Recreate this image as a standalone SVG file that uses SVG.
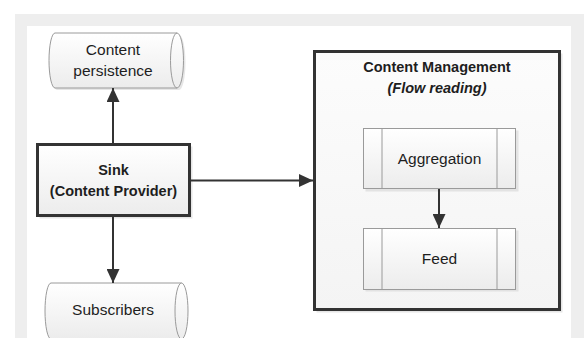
<svg xmlns="http://www.w3.org/2000/svg" width="584" height="338" viewBox="0 0 584 338">
  <style>
    .t { font-family: "Liberation Sans", Arial, sans-serif; fill: #1e1e1e; text-anchor: middle; }
    .n { font-size: 15.5px; }
    .b { font-size: 14.5px; font-weight: bold; }
    .i { font-style: italic; }
    .thin { stroke: #9a9a9a; stroke-width: 1; }
    .thick { stroke: #333333; stroke-width: 3; }
    .shadow { fill: #d6d6d6; opacity: 0.6; }
    .conn { stroke: #333333; stroke-width: 2; fill: none; }
  </style>
  <defs>
    <linearGradient id="soft" x1="0" y1="0" x2="0" y2="1">
      <stop offset="0" stop-color="#ffffff"/>
      <stop offset="1" stop-color="#ececec"/>
    </linearGradient>
    <linearGradient id="panel" x1="0" y1="0" x2="0" y2="1">
      <stop offset="0" stop-color="#fcfcfc"/>
      <stop offset="1" stop-color="#f4f4f4"/>
    </linearGradient>
    <marker id="arrow" viewBox="0 0 14 13" refX="14" refY="6.5" markerWidth="14" markerHeight="13" markerUnits="userSpaceOnUse" orient="auto">
      <path d="M0,0 L14,6.5 L0,13 Z" fill="#333333"/>
    </marker>
  </defs>

  <!-- page frame -->
  <rect x="15" y="14" width="569" height="324" fill="#eeeeee"/>
  <rect x="27" y="26" width="544" height="312" fill="#ffffff"/>

  <!-- storage: content persistence -->
  <g id="content-persistence">
    <path d="M57,35 H179 A6.5,27.5 0 0 1 179,90 H57 A6,27.5 0 0 1 57,35 Z" class="shadow"/>
    <path d="M55,33 H177 A6.5,27.5 0 0 1 177,88 H55 A6,27.5 0 0 1 55,33 Z" fill="url(#soft)" class="thin"/>
    <path d="M177,33 A6.5,27.5 0 0 0 177,88" fill="none" class="thin"/>
    <text class="t n" x="113" y="55">Content</text>
    <text class="t n" x="113" y="76">persistence</text>
  </g>

  <!-- process: sink -->
  <g id="sink">
    <rect x="39.5" y="146.5" width="153" height="72" class="shadow"/>
    <rect x="37.5" y="144.5" width="152" height="71" fill="url(#soft)" class="thick"/>
    <text class="t b" x="113.5" y="175">Sink</text>
    <text class="t b" x="113.5" y="196">(Content Provider)</text>
  </g>

  <!-- storage: subscribers -->
  <g id="subscribers">
    <path d="M51,283 H181.5 A6.5,28 0 0 1 181.5,339 H51 A6,28 0 0 1 51,283 Z" fill="url(#soft)" class="thin"/>
    <path d="M181.5,283 A6.5,28 0 0 0 181.5,339" fill="none" class="thin"/>
    <text class="t n" x="113" y="315">Subscribers</text>
  </g>

  <!-- container: content management -->
  <g id="content-management">
    <rect x="316.5" y="53.5" width="246" height="259" class="shadow"/>
    <rect x="314.5" y="51.5" width="245" height="258" fill="url(#panel)" class="thick"/>
    <text class="t b" x="437" y="72">Content Management</text>
    <text class="t b i" x="437" y="93">(Flow reading)</text>
  </g>

  <!-- subprocess: aggregation -->
  <g id="aggregation">
    <rect x="365.5" y="130.5" width="153" height="61" class="shadow"/>
    <rect x="363.5" y="128.5" width="152" height="60" fill="url(#soft)" class="thin"/>
    <line x1="382" y1="128.5" x2="382" y2="188.5" class="thin"/>
    <line x1="497" y1="128.5" x2="497" y2="188.5" class="thin"/>
    <text class="t n" x="439.5" y="164">Aggregation</text>
  </g>

  <!-- subprocess: feed -->
  <g id="feed">
    <rect x="365.5" y="230.5" width="153" height="61" class="shadow"/>
    <rect x="363.5" y="228.5" width="152" height="61" fill="url(#soft)" class="thin"/>
    <line x1="382" y1="228.5" x2="382" y2="289.5" class="thin"/>
    <line x1="497" y1="228.5" x2="497" y2="289.5" class="thin"/>
    <text class="t n" x="439.5" y="264">Feed</text>
  </g>

  <!-- connectors, drawn last so they sit above the container -->
  <g id="connectors">
    <line class="conn" x1="113" y1="143" x2="113" y2="88" marker-end="url(#arrow)"/>
    <line class="conn" x1="113" y1="217" x2="113" y2="283" marker-end="url(#arrow)"/>
    <line class="conn" x1="191" y1="180.5" x2="313" y2="180.5" marker-end="url(#arrow)"/>
    <line class="conn" x1="439" y1="189" x2="439" y2="228" marker-end="url(#arrow)"/>
  </g>
</svg>
